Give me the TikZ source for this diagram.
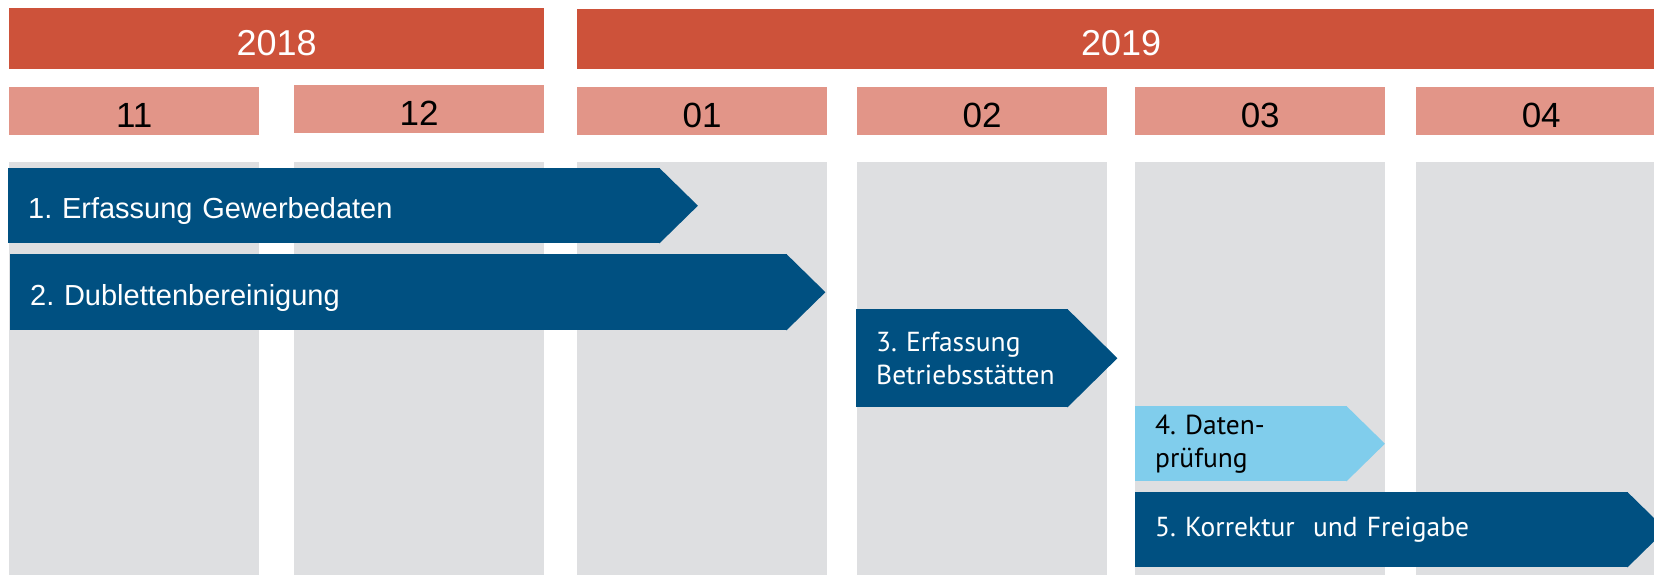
\documentclass[tikz,border=0pt]{standalone}
\usepackage{fontspec}
\setmainfont{Liberation Sans}
\newfontfamily\bundfont{PT Sans}
\usepackage{tikz}
\usetikzlibrary{calc}
\frenchspacing

\definecolor{yearred}{HTML}{CD523A}
\definecolor{monthpink}{HTML}{E29588}
\definecolor{colgray}{HTML}{DEDFE1}
\definecolor{darkblue}{HTML}{005081}
\definecolor{lightblue}{HTML}{80CDEC}

\tikzset{
	yearbox/.style={fill=yearred,text=white,anchor=north west,inner sep=0pt,
		minimum height=61pt,font=\fontsize{36}{40}\selectfont,text height=33pt,text depth=0pt},
	monthbox/.style={fill=monthpink,text=black,anchor=north west,inner sep=0pt,
		minimum width=250pt,minimum height=48pt,font=\fontsize{35}{40}\selectfont,text height=32pt,text depth=0pt},
	phase/.style={fill=darkblue,text=white,anchor=north west,inner xsep=20pt,inner ysep=0pt,align=left},
	phasearial/.style={phase,font=\fontsize{29}{34}\selectfont,text height=28pt,text depth=2pt},
	phasebund/.style={phase,font=\bundfont\fontsize{27.5}{33}\selectfont}
}

\begin{document}
\begin{tikzpicture}[x=1pt,y=-1pt]
	\useasboundingbox (0,0) rectangle (1654,574);
	\clip (0,0) rectangle (1654,574);
	% columns
	\foreach \x in {9,294,577,857,1135,1416}
		{\fill[colgray] (\x,162) rectangle ++(250,420);};
	% years
	\node[yearbox,minimum width=535pt] (y2018) at (9,8) {2018};
	\node[yearbox,minimum width=1088pt,minimum height=60pt] (y2019) at (577,9) {2019};
	% months
	\foreach \x/\y/\m in {9/87/11,294/85/12,577/87/01,857/87/02,1135/87/03,1416/87/04}
		{\node[monthbox] (m\m) at (\x,\y) {\m};};
	% phases
	\node[phasearial,text width=612pt,minimum height=75pt] (p1) at (8,168) {1. Erfassung Gewerbedaten};
	\node[phasearial,text width=737pt,minimum height=76pt] (p2) at (10,254) {2. Dublettenbereinigung};
	\node[phasebund,text width=172pt,minimum height=98pt] (p3) at (856,309) {3. Erfassung\\Betriebsstätten};
	\node[phasebund,fill=lightblue,text=black,text width=172pt,minimum height=75pt] (p4) at (1135,406) {4. Daten-\\prüfung};
	\node[phasebund,text width=453pt,minimum height=75pt] (p5) at (1135,492) {5. Korrektur\ \ und Freigabe};
	% tips
	\fill[darkblue] ($(p1.north east)+(-1,0)$) -- ($(p1.east)+(37.5,0)$) -- ($(p1.south east)+(-1,0)$) -- cycle;
	\fill[darkblue] ($(p2.north east)+(-1,0)$) -- ($(p2.east)+(38,0)$) -- ($(p2.south east)+(-1,0)$) -- cycle;
	\fill[darkblue] ($(p3.north east)+(-1,0)$) -- ($(p3.east)+(49,0)$) -- ($(p3.south east)+(-1,0)$) -- cycle;
	\fill[lightblue] ($(p4.north east)+(-1,0)$) -- ($(p4.east)+(37.5,0)$) -- ($(p4.south east)+(-1,0)$) -- cycle;
	\fill[darkblue] ($(p5.north east)+(-1,0)$) -- ($(p5.east)+(37.5,0)$) -- ($(p5.south east)+(-1,0)$) -- cycle;
\end{tikzpicture}
\end{document}
